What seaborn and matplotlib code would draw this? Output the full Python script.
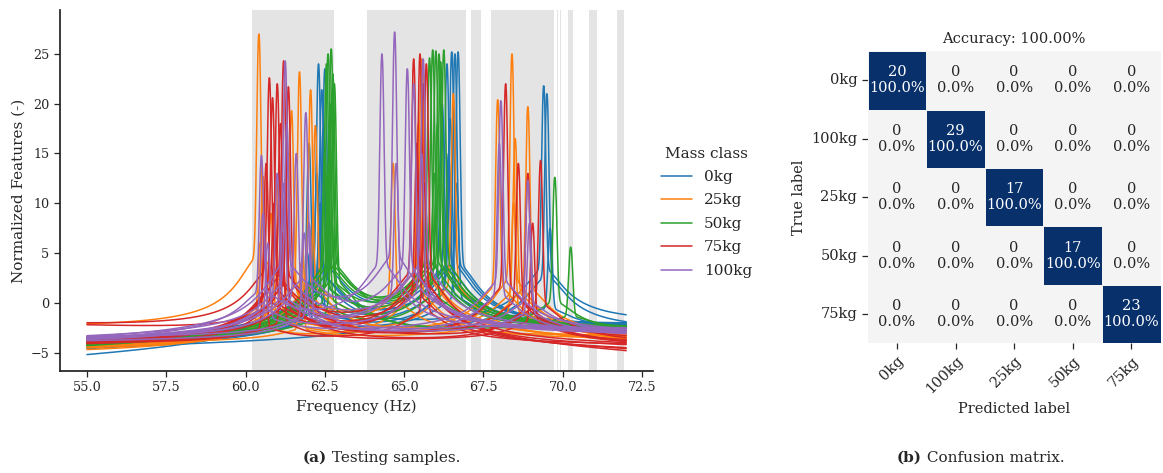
import numpy as np
import pandas as pd
import matplotlib
matplotlib.use("Agg")
import matplotlib.pyplot as plt
import seaborn as sns
from matplotlib.colors import LinearSegmentedColormap

# ---------------------------------------------------------------- data
mass_classes = ["0kg", "25kg", "50kg", "75kg", "100kg"]

# Each test sample: resonance peaks as (frequency in Hz, peak value),
# plus the feature level at 55 Hz and at 72 Hz.
peaks_0kg = [
    [(62.30, 24.0), (66.50, 25.2)],
    [(62.40, 21.4), (66.60, 25.0)],
    [(62.00, 16.0), (66.35, 24.0)],
    [(62.10, 8.0), (66.70, 25.2)],
    [(62.45, 17.5), (69.40, 21.8)],
    [(62.25, 13.0), (69.50, 21.0)],
    [(66.45, 18.5), (69.60, 7.5)],
    [(62.50, 23.5), (66.20, 20.0)],
    [(62.35, 10.0), (66.40, 15.0)],
    [(61.95, 5.0), (66.65, 12.0)],
]
start_0kg = [-5.2, -4.4, -4.3, -4.2, -4.0, -4.1, -4.5, -3.8, -4.6, -4.3]
end_0kg = [-2.0, -2.2, -2.3, -2.1, -1.2, -1.9, -2.4, -2.2, -2.3, -2.0]

peaks_25kg = [
    [(60.42, 27.0), (65.55, 24.5)],
    [(61.70, 23.2), (68.40, 25.0)],
    [(62.05, 21.4), (67.95, 20.4)],
    [(61.45, 19.3), (68.90, 19.7)],
    [(60.55, 12.7), (64.65, 14.0)],
    [(62.20, 17.8), (65.60, 23.0)],
    [(61.00, 12.0), (66.55, 21.0)],
    [(60.80, 9.0), (68.50, 16.5)],
    [(60.45, 6.0), (65.45, 18.0)],
    [(61.75, 4.0), (68.45, 10.0)],
]
start_25kg = [-2.1, -4.7, -4.5, -4.4, -4.2, -4.3, -4.0, -3.9, -4.5, -4.1]
end_25kg = [-3.8, -3.6, -3.3, -3.0, -3.2, -3.4, -3.6, -2.8, -3.5, -3.1]

peaks_50kg = [
    [(62.70, 25.5), (66.00, 25.3)],
    [(62.60, 25.0), (65.90, 25.4)],
    [(62.55, 24.0), (66.10, 25.0)],
    [(62.75, 23.0), (66.25, 25.4)],
    [(62.65, 18.0), (65.80, 24.6)],
    [(62.50, 15.0), (66.15, 24.2)],
    [(62.80, 22.0), (69.75, 12.6)],
    [(62.70, 20.0), (70.25, 5.6)],
    [(62.60, 12.0), (66.05, 18.0)],
    [(62.72, 8.0), (65.95, 13.0)],
]
start_50kg = [-4.3, -4.1, -4.0, -3.9, -4.2, -3.8, -4.0, -3.9, -4.2, -4.0]
end_50kg = [-2.6, -2.5, -2.4, -2.7, -2.5, -2.3, -2.6, -2.4, -2.5, -2.6]

peaks_75kg = [
    [(60.75, 22.6), (65.30, 24.5)],
    [(61.00, 22.0), (65.50, 25.0)],
    [(61.20, 24.3), (65.70, 24.0)],
    [(60.85, 20.6), (68.20, 22.0)],
    [(61.35, 21.7), (69.30, 14.3)],
    [(61.10, 18.0), (68.90, 13.0)],
    [(60.65, 14.0), (65.60, 22.0)],
    [(61.25, 11.0), (68.60, 14.0)],
    [(60.90, 10.0), (65.40, 16.0)],
    [(61.15, 7.0), (69.05, 8.0)],
    [(60.60, 5.0), (65.65, 12.0)],
]
start_75kg = [-2.0, -4.0, -3.8, -3.9, -3.7, -4.1, -3.6, -3.5, -2.2, -3.9, -4.0]
end_75kg = [-4.8, -4.5, -4.0, -3.8, -3.5, -3.9, -4.2, -3.3, -4.6, -3.7, -4.1]

peaks_100kg = [
    [(61.25, 24.3), (64.70, 27.2)],
    [(60.50, 14.8), (64.30, 25.0)],
    [(61.90, 19.1), (65.10, 23.5)],
    [(61.30, 18.0), (65.60, 24.5)],
    [(61.00, 13.0), (65.30, 22.0)],
    [(60.70, 6.0), (68.05, 20.3)],
    [(61.60, 15.0), (68.90, 12.3)],
    [(62.00, 8.0), (68.00, 16.0)],
    [(61.20, 12.0), (64.75, 14.0)],
    [(60.55, 9.0), (65.55, 15.0)],
    [(61.85, 7.0), (68.95, 8.0)],
]
start_100kg = [-3.4, -3.6, -3.5, -3.3, -3.7, -3.4, -3.5, -3.8, -3.5, -3.6, -3.4]
end_100kg = [-2.8, -2.5, -2.9, -2.7, -3.0, -2.6, -2.8, -3.1, -2.7, -2.6, -2.9]

# Frequency bands kept by the feature selection (shaded)
band_start = [60.20, 63.84, 67.12, 67.75, 69.81, 69.90, 70.17, 70.83, 71.70]
band_end = [62.78, 66.94, 67.41, 69.73, 69.85, 69.96, 70.31, 71.07, 71.93]

# Confusion matrix on the test set
cm_labels = ["0kg", "100kg", "25kg", "50kg", "75kg"]
cm_counts = np.array([
    [20, 0, 0, 0, 0],
    [0, 29, 0, 0, 0],
    [0, 0, 17, 0, 0],
    [0, 0, 0, 17, 0],
    [0, 0, 0, 0, 23],
])

# ---------------------------------------------------------------- curves
freq = np.linspace(55.0, 72.0, 3401)
TAIL = 0.17        # strength of the 1/|f - f0| resonance skirt
TAIL_WIDTH = 0.6   # Hz
CORE_WIDTH = 0.09  # Hz


def sample_curve(peaks, start, end):
    tails = np.zeros_like(freq)
    for f0, top in peaks:
        tails += TAIL * top / np.sqrt((freq - f0) ** 2 + TAIL_WIDTH ** 2)
    base = np.linspace(start - tails[0], end - tails[-1], freq.size)
    y = base + tails
    cores = np.zeros_like(freq)
    for f0, top in peaks:
        i = np.argmin(np.abs(freq - f0))
        cores += (top - y[i]) * np.exp(-np.abs((freq - f0) / CORE_WIDTH) ** 2.2)
    return y + cores


class_data = {
    "0kg": (peaks_0kg, start_0kg, end_0kg),
    "25kg": (peaks_25kg, start_25kg, end_25kg),
    "50kg": (peaks_50kg, start_50kg, end_50kg),
    "75kg": (peaks_75kg, start_75kg, end_75kg),
    "100kg": (peaks_100kg, start_100kg, end_100kg),
}

frames = []
sample_id = 0
for name in mass_classes:
    peaks, starts, ends = class_data[name]
    for pk, s, e in zip(peaks, starts, ends):
        frames.append(pd.DataFrame({
            "Frequency (Hz)": freq,
            "Normalized Features (-)": sample_curve(pk, s, e),
            "Mass class": name,
            "sample": sample_id,
        }))
        sample_id += 1
df = pd.concat(frames, ignore_index=True)

# ---------------------------------------------------------------- figure
sns.set_theme(style="ticks")
plt.rcParams["font.family"] = ["DejaVu Serif"]
plt.rcParams["axes.edgecolor"] = "#222222"

fig = plt.figure(figsize=(11.63, 4.73), dpi=100)
ax = fig.add_axes([0.0516, 0.2156, 0.51, 0.763])
cm_ax = fig.add_axes([0.746, 0.274, 0.252, 0.618])

for a, b in zip(band_start, band_end):
    ax.axvspan(a, b, color="#e4e4e4", lw=0, zorder=0)

sns.lineplot(
    data=df, x="Frequency (Hz)", y="Normalized Features (-)",
    hue="Mass class", hue_order=mass_classes, units="sample",
    estimator=None, palette=sns.color_palette("tab10", 5),
    linewidth=1.1, ax=ax, sort=False,
)
ax.set_xlim(54.15, 72.85)
ax.set_ylim(-6.85, 29.4)
ax.xaxis.set_major_formatter(matplotlib.ticker.FormatStrFormatter("%.1f"))
ax.tick_params(labelsize=9.2, length=4, width=0.9)
ax.set_xlabel("Frequency (Hz)", fontsize=11)
ax.set_ylabel("Normalized Features (-)", fontsize=11)
sns.despine(ax=ax)
sns.move_legend(ax, "center left", bbox_to_anchor=(0.99, 0.44), frameon=False,
                title="Mass class", fontsize=11, title_fontsize=11,
                labelspacing=0.62)

# confusion matrix, shaded by the row-normalised share
row_pct = cm_counts / cm_counts.sum(axis=1, keepdims=True) * 100
annot = np.array([[f"{c}\n{p:.1f}%" for c, p in zip(rc, rp)]
                  for rc, rp in zip(cm_counts, row_pct)])
cmap = LinearSegmentedColormap.from_list("cm", ["#f4f4f4", "#08306b"])
sns.heatmap(row_pct, annot=annot, fmt="", cmap=cmap, cbar=False,
            vmin=0, vmax=100, linewidths=0.6, linecolor="#f4f4f4",
            xticklabels=cm_labels, yticklabels=cm_labels, ax=cm_ax,
            annot_kws={"fontsize": 10.5})
accuracy = np.trace(cm_counts) / cm_counts.sum() * 100
cm_ax.set_title(f"Accuracy: {accuracy:.2f}%", fontsize=10.5)
cm_ax.set_xlabel("Predicted label", fontsize=10.5)
cm_ax.set_ylabel("True label", fontsize=10.5)
cm_ax.tick_params(left=True, bottom=True, length=4, width=0.9, labelsize=10.5)
plt.setp(cm_ax.get_xticklabels(), rotation=45, ha="right", rotation_mode="anchor")
plt.setp(cm_ax.get_yticklabels(), rotation=0)

# sub-figure captions
cap_y = 1 - 458 / 473
fig.text(327 / 1163, cap_y, "(a)", fontweight="bold", ha="right", va="center", fontsize=11)
fig.text(327 / 1163, cap_y, " Testing samples.", ha="left", va="center", fontsize=11)
fig.text(922 / 1163, cap_y, "(b)", fontweight="bold", ha="right", va="center", fontsize=11)
fig.text(922 / 1163, cap_y, " Confusion matrix.", ha="left", va="center", fontsize=11)

fig.savefig("out.png", dpi=100)
